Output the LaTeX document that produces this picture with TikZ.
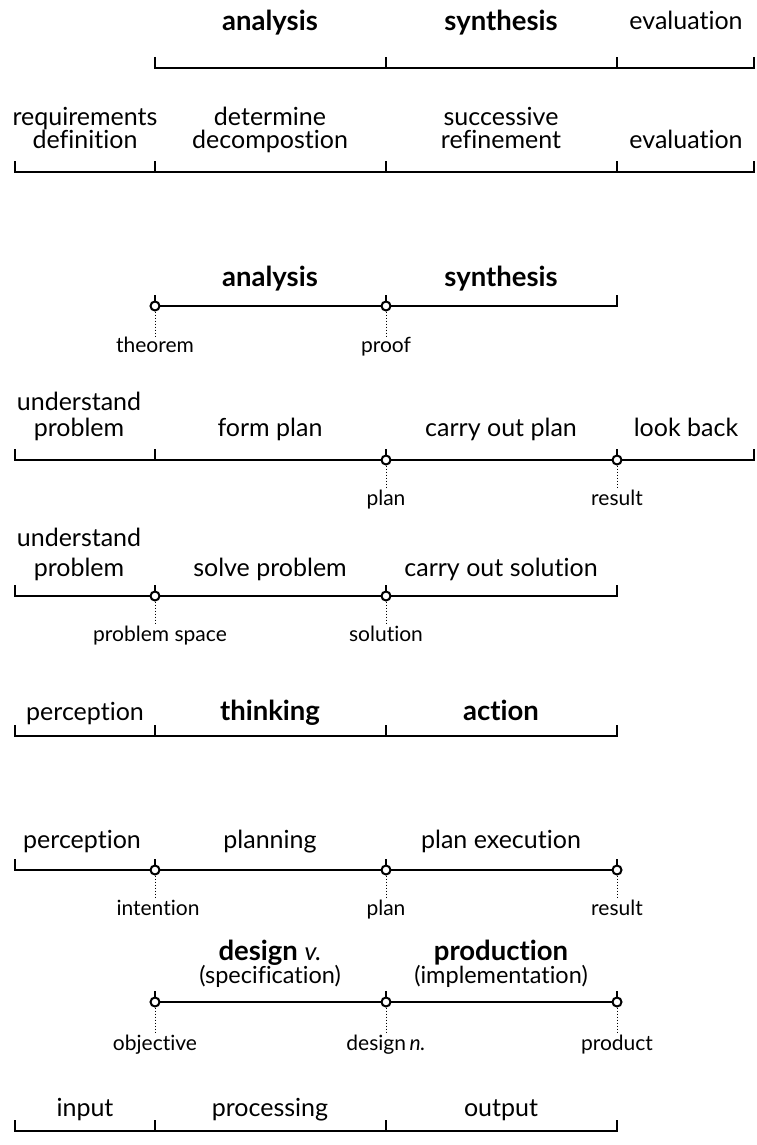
\documentclass[tikz,border=0pt]{standalone}
\usepackage{fontspec}
\setmainfont{Lato}[Ligatures=NoCommon]
\usetikzlibrary{positioning}

\begin{document}
\begin{tikzpicture}[x=1pt, y=-1pt,
    timeline/.style={line width=2.7pt},
    joint/.style={circle, draw, fill=white, line width=2pt,
      inner sep=0pt, minimum size=9pt},
    phase/.style={anchor=base, inner sep=0pt,
      font=\fontsize{25}{30}\selectfont},
    keyphase/.style={phase, font=\fontsize{27.5}{32}\selectfont\bfseries},
    aside/.style={phase, font=\fontsize{23.5}{28}\selectfont},
    state/.style={anchor=base, inner sep=0pt,
      font=\fontsize{21}{25}\selectfont},
    link/.style={dotted, line width=1pt}]
  \useasboundingbox (0,0) rectangle (756,1145);

  % ANALYSIS / SYNTHESIS / EVALUATION

  \coordinate (r1b) at (155,68);
  \coordinate (r1c) at (386,68);
  \coordinate (r1d) at (617,68);
  \coordinate (r1e) at (754,68);
  \draw[timeline] (r1b) ++(0,-11) -- (r1b) -- (r1e) -- ++(0,-11);
  \foreach \p in {r1c,r1d}
    \draw[timeline] (\p) -- ++(0,-11);
  \node[keyphase] (analysis1) at (270,31) {analysis};
  \node[keyphase] (synthesis1) at (501,31) {synthesis};
  \node[phase] (evaluation1) at (686,30) {evaluation};

  \coordinate (r2a) at (15,172);
  \coordinate (r2b) at (155,172);
  \coordinate (r2c) at (386,172);
  \coordinate (r2d) at (617,172);
  \coordinate (r2e) at (754,172);
  \draw[timeline] (r2a) ++(0,-11) -- (r2a) -- (r2e) -- ++(0,-11);
  \foreach \p in {r2b,r2c,r2d}
    \draw[timeline] (\p) -- ++(0,-11);
  \node[phase] (requirements) at (85,125) {requirements};
  \node[phase] (definition) at (85,149) {definition};
  \node[phase] (determine) at (270,125) {determine};
  \node[phase] (decomposition) at (270,149) {decompostion};
  \node[phase] (successive) at (501,125) {successive};
  \node[phase] (refinement) at (501,149) {refinement};
  \node[phase] (evaluation2) at (686,149) {evaluation};

  % THEOREM / PROOF

  \coordinate (r3b) at (155,306);
  \coordinate (r3c) at (386,306);
  \coordinate (r3d) at (617,306);
  \draw[timeline] (r3b) -- (r3d) -- ++(0,-11);
  \foreach \p in {r3b,r3c}
    \draw[timeline] (\p) -- ++(0,-11);
  \node[joint] (theorempt) at (r3b) {};
  \node[joint] (proofpt) at (r3c) {};
  \node[keyphase] (analysis3) at (270,286) {analysis};
  \node[keyphase] (synthesis3) at (501,286) {synthesis};
  \node[state] (theorem) at (155,352) {theorem};
  \node[state] (proof) at (386,352) {proof};
  \draw[link] (theorempt.south) -- (theorempt.south |- theorem.north);
  \draw[link] (proofpt.south) -- (proofpt.south |- proof.north);

  % POLYA

  \coordinate (r4a) at (15,460);
  \coordinate (r4b) at (155,460);
  \coordinate (r4c) at (386,460);
  \coordinate (r4d) at (617,460);
  \coordinate (r4e) at (754,460);
  \draw[timeline] (r4a) ++(0,-11) -- (r4a) -- (r4e) -- ++(0,-11);
  \foreach \p in {r4b,r4c,r4d}
    \draw[timeline] (\p) -- ++(0,-11);
  \node[joint] (plan4pt) at (r4c) {};
  \node[joint] (result4pt) at (r4d) {};
  \node[phase] (understand4) at (79,410) {understand};
  \node[phase] (problem4) at (79,436) {problem};
  \node[phase] (formplan) at (270,436) {form plan};
  \node[phase] (carryout) at (501,436) {carry out plan};
  \node[phase] (lookback) at (686,436) {look back};
  \node[state] (plan4) at (386,505) {plan};
  \node[state] (result4) at (617,505) {result};
  \draw[link] (plan4pt.south) -- (plan4pt.south |- plan4.north);
  \draw[link] (result4pt.south) -- (result4pt.south |- result4.north);

  % PROBLEM SOLVING

  \coordinate (r5a) at (15,596);
  \coordinate (r5b) at (155,596);
  \coordinate (r5c) at (386,596);
  \coordinate (r5d) at (617,596);
  \draw[timeline] (r5a) ++(0,-11) -- (r5a) -- (r5d) -- ++(0,-11);
  \foreach \p in {r5b,r5c}
    \draw[timeline] (\p) -- ++(0,-11);
  \node[joint] (spacept) at (r5b) {};
  \node[joint] (solutionpt) at (r5c) {};
  \node[phase] (understand5) at (79,546) {understand};
  \node[phase] (problem5) at (79,576) {problem};
  \node[phase] (solve) at (270,576) {solve problem};
  \node[phase] (carrysol) at (501,576) {carry out solution};
  \node[state] (space) at (160,641) {problem space};
  \node[state] (solution) at (386,641) {solution};
  \draw[link] (spacept.south) -- (spacept.south |- space.north);
  \draw[link] (solutionpt.south) -- (solutionpt.south |- solution.north);

  % PERCEPTION / THINKING / ACTION

  \coordinate (r6a) at (15,736);
  \coordinate (r6b) at (155,736);
  \coordinate (r6c) at (386,736);
  \coordinate (r6d) at (617,736);
  \draw[timeline] (r6a) ++(0,-11) -- (r6a) -- (r6d) -- ++(0,-11);
  \foreach \p in {r6b,r6c}
    \draw[timeline] (\p) -- ++(0,-11);
  \node[phase] (perception6) at (85,720) {perception};
  \node[keyphase] (thinking) at (270,720) {thinking};
  \node[keyphase] (action) at (501,720) {action};

  \coordinate (r7a) at (15,870);
  \coordinate (r7b) at (155,870);
  \coordinate (r7c) at (386,870);
  \coordinate (r7d) at (617,870);
  \draw[timeline] (r7a) ++(0,-11) -- (r7a) -- (r7d);
  \foreach \p in {r7b,r7c,r7d}
    \draw[timeline] (\p) -- ++(0,-11);
  \node[joint] (intentionpt) at (r7b) {};
  \node[joint] (plan7pt) at (r7c) {};
  \node[joint] (result7pt) at (r7d) {};
  \node[phase] (perception7) at (82,848) {perception};
  \node[phase] (planning) at (270,848) {planning};
  \node[phase] (execution) at (501,848) {plan execution};
  \node[state] (intention) at (158,915) {intention};
  \node[state] (plan7) at (386,915) {plan};
  \node[state] (result7) at (617,915) {result};
  \draw[link] (intentionpt.south) -- (intentionpt.south |- intention.north);
  \draw[link] (plan7pt.south) -- (plan7pt.south |- plan7.north);
  \draw[link] (result7pt.south) -- (result7pt.south |- result7.north);

  % DESIGN / PRODUCTION

  \coordinate (r8b) at (155,1002);
  \coordinate (r8c) at (386,1002);
  \coordinate (r8d) at (617,1002);
  \draw[timeline] (r8b) -- (r8d);
  \foreach \p in {r8b,r8c,r8d}
    \draw[timeline] (\p) -- ++(0,-11);
  \node[joint] (objectivept) at (r8b) {};
  \node[joint] (designpt) at (r8c) {};
  \node[joint] (productpt) at (r8d) {};
  \node[keyphase] (designv) at (270,960) {design {\mdseries\fontsize{25}{30}\selectfont\itshape v.}};
  \node[aside] (specification) at (270,983) {(specification)};
  \node[keyphase] (production) at (501,960) {production};
  \node[aside] (implementation) at (501,983) {(implementation)};
  \node[state] (objective) at (155,1050) {objective};
  \node[state] (designn) at (386,1050) {design\,\textit{n.}};
  \node[state] (product) at (617,1050) {product};
  \draw[link] (objectivept.south) -- (objectivept.south |- objective.north);
  \draw[link] (designpt.south) -- (designpt.south |- designn.north);
  \draw[link] (productpt.south) -- (productpt.south |- product.north);

  % INPUT / PROCESSING / OUTPUT

  \coordinate (r9a) at (15,1131);
  \coordinate (r9b) at (155,1131);
  \coordinate (r9c) at (386,1131);
  \coordinate (r9d) at (617,1131);
  \draw[timeline] (r9a) ++(0,-11) -- (r9a) -- (r9d) -- ++(0,-11);
  \foreach \p in {r9b,r9c}
    \draw[timeline] (\p) -- ++(0,-11);
  \node[phase] (input) at (85,1116) {input};
  \node[phase] (processing) at (270,1116) {processing};
  \node[phase] (output) at (501,1116) {output};

\end{tikzpicture}
\end{document}
